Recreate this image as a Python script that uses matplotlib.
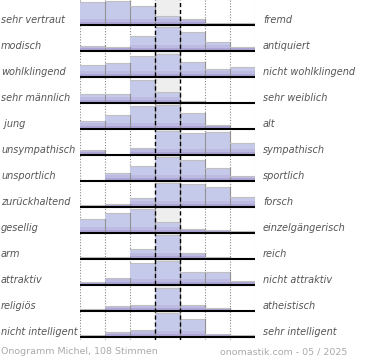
import numpy as np
import matplotlib
matplotlib.use("Agg")
import matplotlib.pyplot as plt
from matplotlib.transforms import blended_transform_factory

# left / right adjectives of the onogram
left_labels = ["sehr vertraut", "modisch", "wohlklingend", "sehr männlich", " jung",
               "unsympathisch", "unsportlich", "zurückhaltend", "gesellig", "arm",
               "attraktiv", "religiös", "nicht intelligent"]
right_labels = ["fremd", "antiquiert", "nicht wohlklingend", "sehr weiblich", "alt",
                "sympathisch", "sportlich", "forsch", "einzelgängerisch", "reich",
                "nicht attraktiv", "atheistisch", "sehr intelligent"]

# bar heights per row (7 bins), 24 = full row
votes = [
    [23, 24, 19, 9, 6, 2, 2],
    [5, 4, 15, 24, 19, 9, 4],
    [12, 14, 21, 23, 15, 8, 10],
    [9, 9, 23, 11, 2, 0, 0],
    [8, 14, 23, 24, 16, 4, 0],
    [5, 0, 7, 24, 22, 23, 12],
    [0.5, 8, 15, 24, 21, 13, 5],
    [2, 3, 9, 24, 23, 20, 10],
    [14, 20, 24, 11, 4, 3, 2],
    [2, 2, 10, 24, 6, 2, 1],
    [3, 7, 22, 24, 13, 13, 4],
    [2, 5, 6, 23, 6, 3, 0.5],
    [2, 5, 7, 24, 18, 3, 2],
]

footer_left = "Onogramm Michel, 108 Stimmen"
footer_right = "onomastik.com - 05 / 2025"

W, H = 370, 360
fig = plt.figure(figsize=(W / 100, H / 100), dpi=100)

# plot area in pixels: x 79.5..254.5, y -1..340, one row = 26 px
ax = fig.add_axes([79.5 / W, 1 - 340 / H, 175 / W, 341 / H])
nrows = len(votes)
ax.set_xlim(0, 7)
ax.set_ylim(341 / 26, 0)
ax.axis("off")

scale = 1 / 26.0
strip = 6 / 26.0
x = np.arange(7) + 0.5

# dotted grid behind everything
for xv in [0, 1, 2, 5, 6, 7]:
    ax.axvline(xv, color="#8a8a8a", lw=0.8, ls=(0, (1, 1.5)), zorder=0)

for k, row in enumerate(votes):
    base = k + 1
    h = np.array(row) * scale
    # grey middle field
    ax.bar(3.5, -1, bottom=base, width=1, color="#eeeeee", zorder=1)
    ax.bar(x, -h, bottom=base, width=1, color="#c6caea", zorder=2)
    # purple tint towards the bottom of each bar
    ax.bar(x, -np.minimum(h, strip), bottom=base, width=1, color="#b3a9da",
           alpha=0.45, zorder=2.1)
    ax.bar(x, -np.minimum(h, strip / 2), bottom=base, width=1, color="#9d8ecb",
           alpha=0.45, zorder=2.2)
    for i in range(7):
        if h[i] <= 0.02:
            continue
        top = base - h[i]
        ax.plot([i, i + 1], [top, top], color="#c0c0c0", lw=0.8, zorder=3)
        ax.plot([i + 1, i + 1], [top, base], color="#929292", lw=0.8, zorder=3)
    ax.plot([0, 7], [base, base], color="black", lw=1.5, zorder=4,
            solid_capstyle="butt")

for xv in [3, 4]:
    ax.axvline(xv, color="black", lw=1.0, ls=(0, (3, 2)), zorder=5)

tr = blended_transform_factory(fig.transFigure, ax.transData)
for k in range(nrows):
    yl = k + 1 - 5 / 26
    ax.text(1 / W, yl, left_labels[k], transform=tr, ha="left", va="center",
            fontsize=7.0, style="italic", color="#555555")
    ax.text(263 / W, yl, right_labels[k], transform=tr, ha="left", va="center",
            fontsize=7.0, style="italic", color="#555555")

fig.text(1 / W, 1 - 352 / H, footer_left, ha="left", va="center",
         fontsize=6.8, color="#aaaaaa")
fig.text(347 / W, 1 - 352 / H, footer_right, ha="right", va="center",
         fontsize=6.8, color="#aaaaaa")

fig.savefig("out.png", dpi=100)
